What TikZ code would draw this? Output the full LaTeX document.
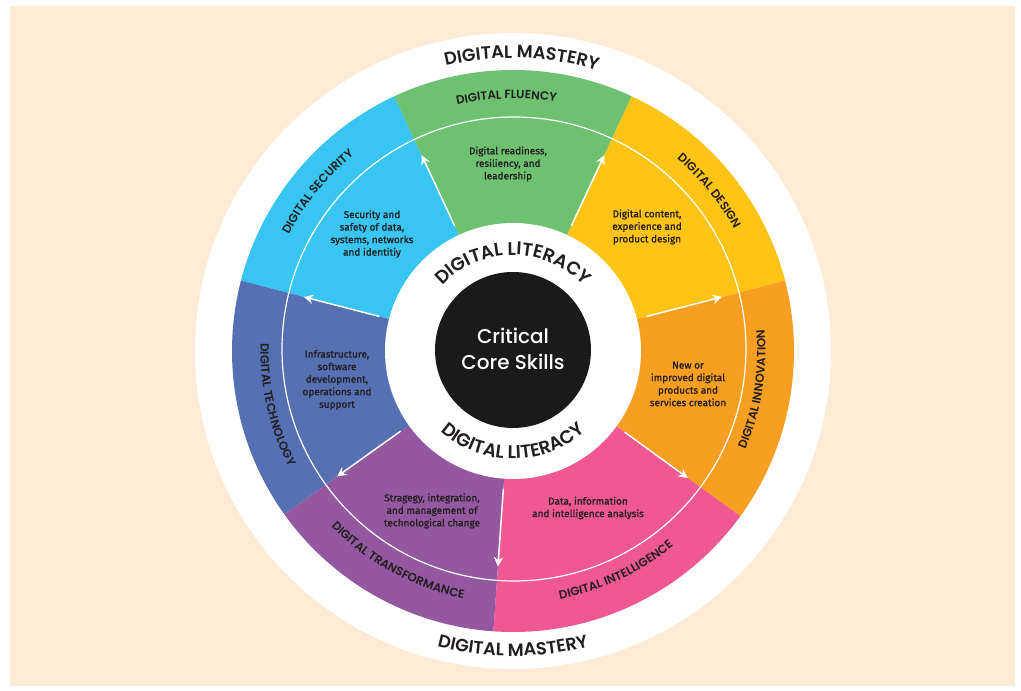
\documentclass[tikz,border=0pt]{standalone}
\usepackage{fontspec}
\setmainfont{Fira Sans}[FakeBold=1.2]
\newfontfamily\headfont{Poppins}[UprightFont=* SemiBold]
\newfontfamily\corefont{Poppins}[UprightFont=* Medium]
\usetikzlibrary{arrows.meta,decorations.text}

\definecolor{peach}{HTML}{FDEBD6}
\definecolor{fluency}{HTML}{6DC171}
\definecolor{design}{HTML}{FDC315}
\definecolor{innovation}{HTML}{F89F22}
\definecolor{intelligence}{HTML}{EF5892}
\definecolor{transformation}{HTML}{93589F}
\definecolor{technology}{HTML}{5670B4}
\definecolor{security}{HTML}{38C5F1}
\definecolor{core}{HTML}{1B1A1A}
\definecolor{ink}{HTML}{231F20}

\newcommand\masteryfont{\headfont\fontsize{13.3}{13.3}\selectfont}
\newcommand\literacyfont{\headfont\fontsize{13.8}{13.8}\selectfont}
\newcommand\segfont{\headfont\fontsize{8.9}{8.9}\selectfont}

\begin{document}
\begin{tikzpicture}[x=0.75pt,y=0.75pt,
  desc/.style={text=ink, align=center, inner sep=0pt, font=\fontsize{7.5}{9.4}\selectfont},
  flow/.style={white, line width=1.1pt, -{Stealth[length=7pt,width=7pt]}},
  ringtext/.style={decorate, decoration={text along path, text align=center, text color=ink, text={#1}}}]

\useasboundingbox (-513,-340) rectangle (508,351);
\fill [white] (-513,-340) rectangle (508,351);
\fill [peach] (-503,-335) rectangle (502,345);

\fill [white] (0,0) circle [radius=318];

% the seven skill sectors
\fill [security] (0,0) -- (165.5:281) arc [start angle=165.5, end angle=115, radius=281] -- cycle;
\fill [fluency] (0,0) -- (115:281) arc [start angle=115, end angle=65, radius=281] -- cycle;
\fill [design] (0,0) -- (65:281) arc [start angle=65, end angle=14.5, radius=281] -- cycle;
\fill [innovation] (0,0) -- (14.5:281) arc [start angle=14.5, end angle=-36, radius=281] -- cycle;
\fill [intelligence] (0,0) -- (-36:281) arc [start angle=-36, end angle=-94, radius=281] -- cycle;
\fill [transformation] (0,0) -- (-94:281) arc [start angle=-94, end angle=-144.5, radius=281] -- cycle;
\fill [technology] (0,0) -- (-144.5:281) arc [start angle=-144.5, end angle=-194.5, radius=281] -- cycle;

\fill [white] (0,0) circle [radius=128];
\fill [core] (0,1) circle [radius=78];

\draw [white, line width=0.9pt] (1,2) circle [radius=232];

\draw [flow] (115:138) -- (115:216);
\draw [flow] (65:138) -- (65:216);
\draw [flow] (14.5:138) -- (14.5:216);
\draw [flow] (-36:138) -- (-36:216);
\draw [flow] (-94:138) -- (-94:216);
\draw [flow] (-144.5:138) -- (-144.5:216);
\draw [flow] (165.5:138) -- (165.5:216);

% curved headings, TA kept in one box for its kerning
\path [ringtext={|\masteryfont|DIGI{TA}L MASTERY}] (128.3:293) arc [start angle=128.3, end angle=48.3, radius=293];
\path [ringtext={|\masteryfont|DIGI{TA}L MASTERY}] (-130:305) arc [start angle=-130, end angle=-50, radius=305];
\path [ringtext={|\literacyfont|DIGI{TA}L LITERACY}] (150:96) arc [start angle=150, end angle=30, radius=96];
\path [ringtext={|\literacyfont|DIGI{TA}L LITERACY}] (-150:108) arc [start angle=-150, end angle=-30, radius=108];

\path [ringtext={|\segfont|DIGI{TA}L FLUENCY}] (131.5:252.5) arc [start angle=131.5, end angle=51.5, radius=252.5];
\path [ringtext={|\segfont|DIGI{TA}L DESIGN}] (79.2:252.5) arc [start angle=79.2, end angle=-0.8, radius=252.5];
\path [ringtext={|\segfont|DIGI{TA}L INNOVATION}] (-49.1:252.5) arc [start angle=-49.1, end angle=30.9, radius=252.5];
\path [ringtext={|\segfont|DIGI{TA}L INTELLIGENCE}] (-104.9:252.5) arc [start angle=-104.9, end angle=-24.9, radius=252.5];
\path [ringtext={|\segfont|DIGI{TA}L TRANSFORMANCE}] (-158.7:252.5) arc [start angle=-158.7, end angle=-78.7, radius=252.5];
\path [ringtext={|\segfont|DIGI{TA}L TECHNOLOGY}] (-207.2:252.5) arc [start angle=-207.2, end angle=-127.2, radius=252.5];
\path [ringtext={|\segfont|DIGI{TA}L SECURITY}] (180.8:252.5) arc [start angle=180.8, end angle=100.8, radius=252.5];

\node [text=white, align=center, font=\corefont\fontsize{15}{19.5}\selectfont] (coreskills) at (0,2) {Critical\\Core Skills};

\node [desc] (fluencytxt) at (-5,187) {Digital readiness,\\resiliency, and\\leadership};
\node [desc] (designtxt) at (134,124) {Digital content,\\experience and\\product design};
\node [desc] (innovationtxt) at (175,-33) {New or\\improved digital\\products and\\services creation};
\node [desc] (intelligencetxt) at (75,-157) {Data, information\\and intelligence analysis};
\node [desc] (transformationtxt) at (-81,-160) {Stragegy, integration,\\and management of\\technological change};
\node [desc] (technologytxt) at (-176,-29) {Infrastructure,\\software\\development,\\operations and\\support};
\node [desc] (securitytxt) at (-141,117) {Security and\\safety of data,\\systems, networks\\and identitiy};
\end{tikzpicture}
\end{document}
